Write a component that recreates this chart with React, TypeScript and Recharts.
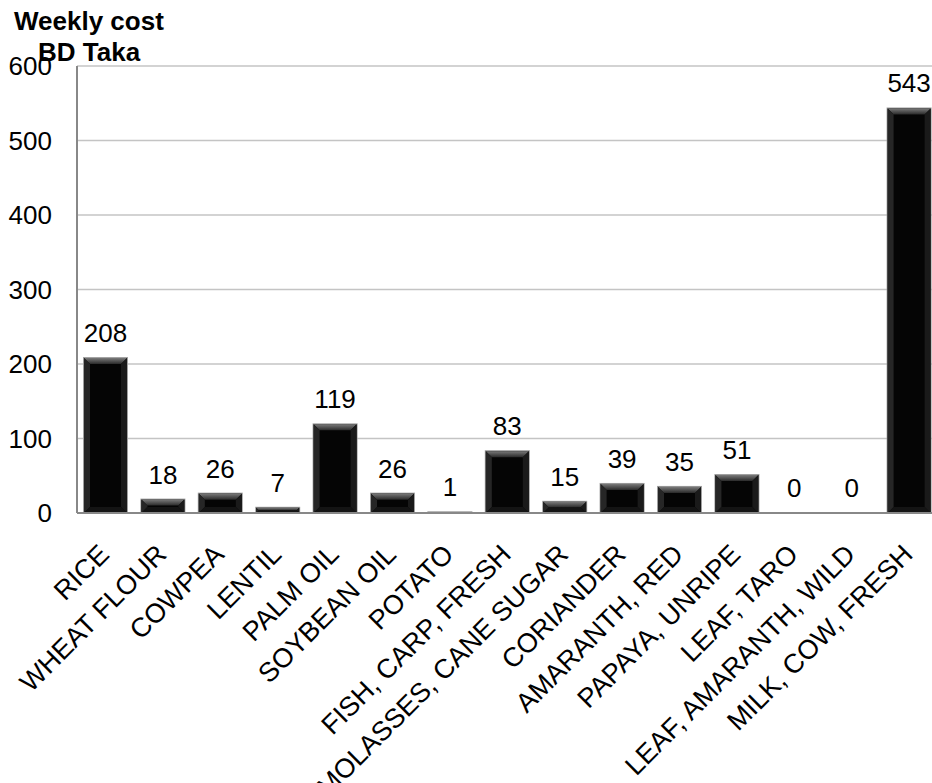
import { BarChart, Bar, XAxis, YAxis, CartesianGrid, LabelList } from 'recharts';

// Weekly cost per food item (BD Taka)
const foods = [
  'RICE',
  'WHEAT FLOUR',
  'COWPEA',
  'LENTIL',
  'PALM OIL',
  'SOYBEAN OIL',
  'POTATO',
  'FISH, CARP, FRESH',
  'MOLASSES, CANE SUGAR',
  'CORIANDER',
  'AMARANTH, RED',
  'PAPAYA, UNRIPE',
  'LEAF, TARO',
  'LEAF, AMARANTH, WILD',
  'MILK, COW, FRESH',
];
const weeklyCost = [208, 18, 26, 7, 119, 26, 1, 83, 15, 39, 35, 51, 0, 0, 543];
const yTicks = [0, 100, 200, 300, 400, 500, 600];

const chartData = foods.map((name, i) => ({ name, cost: weeklyCost[i] }));

const FONT = '"Liberation Sans", Arial, sans-serif';

// black bar with a bevelled rim, like the old spreadsheet look
const BevelBar = (props: any) => {
  const { x, y, width, height } = props;
  if (height <= 0) return null;
  const b = Math.min(6, height / 2, width / 2);
  const x2 = x + width;
  const y2 = y + height;
  return (
    <g>
      <rect x={x - 1} y={y - 1} width={width + 2} height={height + 1} fill="#a0a0a0" />
      <rect x={x} y={y} width={width} height={height} fill="#050505" />
      <polygon
        points={`${x},${y} ${x2},${y} ${x2 - b},${y + b} ${x + b},${y + b}`}
        fill="url(#bevelTop)"
      />
      <polygon
        points={`${x},${y} ${x + b},${y + b} ${x + b},${y2 - b} ${x},${y2}`}
        fill="#262626"
      />
      <polygon
        points={`${x2},${y} ${x2 - b},${y + b} ${x2 - b},${y2 - b} ${x2},${y2}`}
        fill="#1a1a1a"
      />
      <polygon
        points={`${x},${y2} ${x + b},${y2 - b} ${x2 - b},${y2 - b} ${x2},${y2}`}
        fill="#141414"
      />
    </g>
  );
};

const FoodTick = (props: any) => {
  const { x, y, payload } = props;
  const ax = x + 5;
  const ay = y + 35;
  return (
    <text
      x={ax}
      y={ay}
      textAnchor="end"
      transform={`rotate(-45, ${ax}, ${ay})`}
      fontSize={27}
      fontFamily={FONT}
      fill="#000"
    >
      {payload.value}
    </text>
  );
};

export default function App() {
  return (
    <div
      style={{
        position: 'absolute',
        left: 0,
        top: 0,
        width: 932,
        height: 783,
        overflow: 'hidden',
        background: '#fff',
        fontFamily: FONT,
      }}
    >
      <div
        style={{
          position: 'absolute',
          left: 14,
          top: 6,
          fontSize: 26,
          fontWeight: 'bold',
          lineHeight: '31px',
          zIndex: 2,
          color: '#000',
        }}
      >
        Weekly cost
        <br />
        <span style={{ marginLeft: 24 }}>BD Taka</span>
      </div>
      <BarChart
        width={938}
        height={783}
        data={chartData}
        margin={{ top: 66, right: 0, left: 0, bottom: 0 }}
        barSize={43}
      >
        <defs>
          <linearGradient id="bevelTop" x1="0" y1="0" x2="0" y2="1">
            <stop offset="0%" stopColor="#7a7a7a" />
            <stop offset="100%" stopColor="#2a2a2a" />
          </linearGradient>
        </defs>
        <CartesianGrid vertical={false} stroke="#c4c4c4" strokeWidth={1.5} />
        <XAxis
          dataKey="name"
          interval={0}
          height={270}
          tickLine={false}
          axisLine={{ stroke: '#888', strokeWidth: 2 }}
          tick={<FoodTick />}
        />
        <YAxis
          domain={[0, 600]}
          ticks={yTicks}
          width={77}
          tickLine={false}
          tickSize={0}
          tickMargin={25}
          axisLine={{ stroke: '#888', strokeWidth: 2 }}
          tick={{ fontSize: 26, fill: '#000', fontFamily: FONT }}
        />
        <Bar dataKey="cost" shape={<BevelBar />} isAnimationActive={false}>
          <LabelList
            dataKey="cost"
            position="top"
            offset={16}
            fontSize={26}
            fill="#000"
            fontFamily={FONT}
          />
        </Bar>
      </BarChart>
    </div>
  );
}
